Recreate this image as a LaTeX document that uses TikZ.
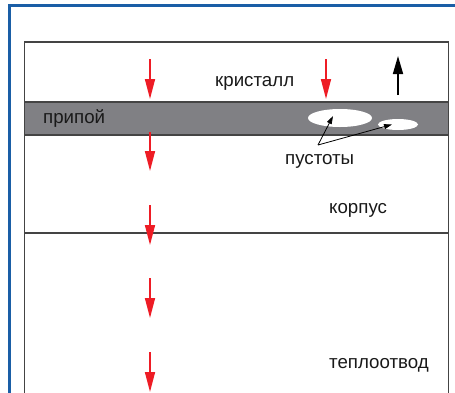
\documentclass[tikz,border=0pt]{standalone}
\usepackage{fontspec}
\setmainfont{Liberation Sans}
\usetikzlibrary{arrows.meta}
\definecolor{frameblue}{HTML}{1A5EA6}
\definecolor{layergray}{HTML}{444444}
\definecolor{soldergray}{HTML}{808084}
\definecolor{flowred}{HTML}{EE1C25}
\tikzset{
  layerline/.style={draw=layergray, line width=1.4pt},
  heatflow/.style={draw=flowred, line width=1.6pt, -{Triangle[length=20pt,width=10pt]}},
  upflow/.style={draw=black, line width=1.6pt, -{Triangle[length=18pt,width=10pt]}},
  pointer/.style={draw=black, line width=0.8pt, -{Triangle[length=8pt,width=5pt]}},
  label/.style={font=\fontsize{18.7}{22}\selectfont, text=black!90, inner sep=0pt, anchor=base west},
  void/.style={fill=white, draw=none}
}
\begin{document}
\begin{tikzpicture}[x=1pt, y=-1pt]
\useasboundingbox (0,0) rectangle (455,392);
\fill[white] (0,0) rectangle (455,392);
% solder layer
\fill[soldergray] (24.5,102) rectangle (448.5,135);
% outer blue frame
\begin{scope}
\clip (0,0) rectangle (455,392);
\draw[frameblue, line width=3.2pt] (9.5,400) -- (9.5,5.5) -- (470,5.5);
\end{scope}
% layer outline
\draw[layerline] (24.5,400) -- (24.5,42) -- (448.5,42) -- (448.5,400);
\draw[layerline] (24.5,102) -- (448.5,102);
\draw[layerline] (24.5,135) -- (448.5,135);
\draw[layerline] (24.5,233) -- (448.5,233);
% voids in the solder
\path[void] (340,118) ellipse [x radius=32, y radius=9];
\path[void] (398,124.5) ellipse [x radius=20, y radius=5.5];
% labels
\node[label] (crystal) at (215,86.5) {кристалл};
\node[label] (solder) at (43,123.3) {припой};
\node[label] (voids) at (285,164) {пустоты};
\node[label] (case) at (329,213.3) {корпус};
\node[label] (sink) at (329,368.3) {теплоотвод};
% arrow end points
\coordinate (a1s) at (150,59);  \coordinate (a1e) at (150,99);
\coordinate (a2s) at (326,59);  \coordinate (a2e) at (326,99);
\coordinate (a3s) at (150,132); \coordinate (a3e) at (150,171);
\coordinate (a4s) at (150,205); \coordinate (a4e) at (150,245);
\coordinate (a5s) at (150,278); \coordinate (a5e) at (150,318);
\coordinate (a6s) at (150,352); \coordinate (a6e) at (150,392);
\coordinate (ups) at (398,95);  \coordinate (upe) at (398,56);
\coordinate (pt) at (318,145);
\coordinate (v1) at (333,116);
\coordinate (v2) at (392,124.5);
% heat flow
\draw[heatflow] (a1s) -- (a1e);
\draw[heatflow] (a2s) -- (a2e);
\draw[heatflow] (a3s) -- (a3e);
\draw[heatflow] (a4s) -- (a4e);
\draw[heatflow] (a5s) -- (a5e);
\draw[heatflow] (a6s) -- (a6e);
\draw[upflow] (ups) -- (upe);
% pointers to the voids
\draw[pointer] (pt) -- (v1);
\draw[pointer] (pt) -- (v2);
\end{tikzpicture}
\end{document}
